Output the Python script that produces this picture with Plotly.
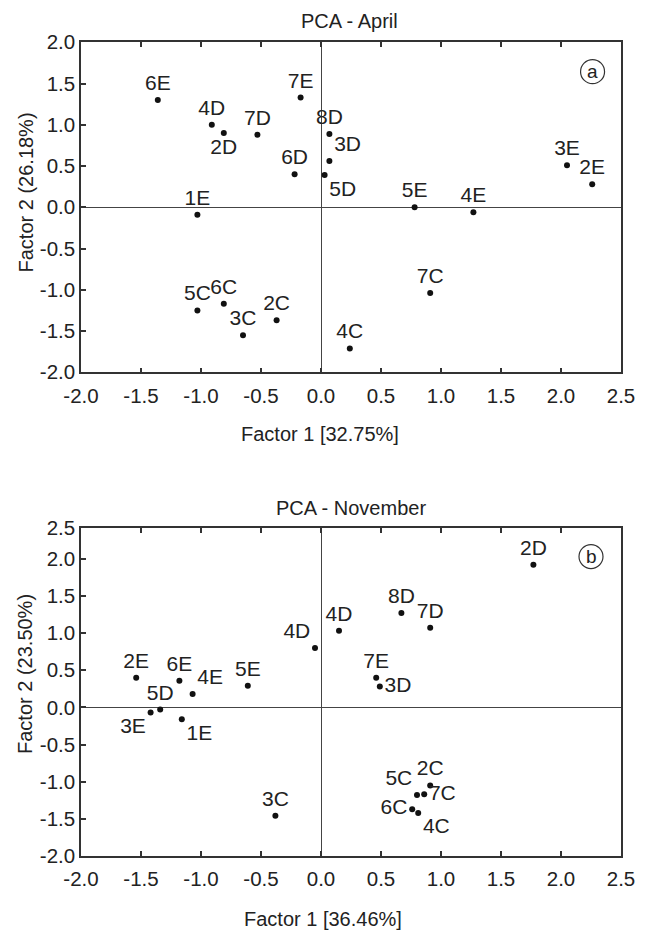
import plotly.graph_objects as go

# ---------------- data ----------------
apr_labels = ["6E", "4D", "2D", "7D", "7E", "6D", "8D", "3D", "5D", "1E",
              "5E", "4E", "3E", "2E", "5C", "6C", "3C", "2C", "4C", "7C"]
apr_x = [-1.36, -0.91, -0.81, -0.53, -0.17, -0.22, 0.07, 0.07, 0.03, -1.03,
         0.78, 1.27, 2.05, 2.26, -1.03, -0.81, -0.65, -0.37, 0.24, 0.91]
apr_y = [1.30, 1.00, 0.90, 0.88, 1.33, 0.40, 0.89, 0.56, 0.39, -0.09,
         0.00, -0.06, 0.51, 0.28, -1.25, -1.17, -1.55, -1.37, -1.71, -1.04]

nov_labels = ["2D", "8D", "7D", "4D", "4D", "7E", "3D", "2E", "6E", "4E",
              "5E", "5D", "3E", "1E", "3C", "2C", "5C", "7C", "6C", "4C"]
nov_x = [1.77, 0.67, 0.91, 0.15, -0.05, 0.46, 0.49, -1.54, -1.18, -1.07,
         -0.61, -1.34, -1.42, -1.16, -0.38, 0.91, 0.80, 0.86, 0.76, 0.81]
nov_y = [1.92, 1.27, 1.07, 1.03, 0.80, 0.40, 0.28, 0.40, 0.36, 0.18,
         0.29, -0.03, -0.07, -0.16, -1.46, -1.05, -1.18, -1.17, -1.37, -1.42]

x_tickvals = [-2.0, -1.5, -1.0, -0.5, 0.0, 0.5, 1.0, 1.5, 2.0, 2.5]
x_ticktext = ["-2.0", "-1.5", "-1.0", "-0.5", "0.0", "0.5", "1.0", "1.5", "2.0", "2.5"]
y1_tickvals = [-2.0, -1.5, -1.0, -0.5, 0.0, 0.5, 1.0, 1.5, 2.0]
y1_ticktext = ["-2.0", "-1.5", "-1.0", "-0.5", "0.0", "0.5", "1.0", "1.5", "2.0"]
y2_top = 2.41
y2_tickvals = [-2.0, -1.5, -1.0, -0.5, 0.0, 0.5, 1.0, 1.5, 2.0, y2_top]
y2_ticktext = ["-2.0", "-1.5", "-1.0", "-0.5", "0.0", "0.5", "1.0", "1.5", "2.0", "2.5"]

# ---------------- label placement (style) ----------------
apr_pos = ["top center", "top center", "bottom center", "top center", "top center",
           "top center", "top center", "top right", "bottom right", "top center",
           "top center", "top center", "top center", "top center", "top center",
           "top center", "top center", "top center", "top center", "top center"]
nov_pos = ["top center", "top center", "top center", "top center", "top left",
           "top center", "middle right", "top center", "top center", "top right",
           "top center", "top center", "bottom left", "bottom right", "top center",
           "top center", "top left", "middle right", "middle left", "bottom right"]

TXT = "#222222"
LINE = "#333333"
FONT = "Liberation Sans, Arial, sans-serif"

W, H, OFF = 649, 933, 8   # page body margin offsets the figure by 8 px


def fx(px):
    return (px - OFF) / W


def fy(py):
    return 1 - (py - OFF) / H


fig = go.Figure()

fig.add_trace(go.Scatter(
    x=apr_x, y=apr_y, text=apr_labels, mode="markers+text",
    textposition=apr_pos, cliponaxis=False,
    marker=dict(size=6, color="#111111"),
    textfont=dict(family=FONT, size=21, color=TXT),
    xaxis="x", yaxis="y", showlegend=False, hoverinfo="skip"))

fig.add_trace(go.Scatter(
    x=nov_x, y=nov_y, text=nov_labels, mode="markers+text",
    textposition=nov_pos, cliponaxis=False,
    marker=dict(size=6, color="#111111"),
    textfont=dict(family=FONT, size=21, color=TXT),
    xaxis="x2", yaxis="y2", showlegend=False, hoverinfo="skip"))

ax_common = dict(showgrid=False, showline=True, linecolor=LINE, linewidth=1.5,
                 ticks="inside", ticklen=5, tickwidth=1.5, tickcolor=LINE,
                 zeroline=True, zerolinecolor="#444444", zerolinewidth=1.2,
                 tickfont=dict(family=FONT, size=20.5, color=TXT),
                 tickmode="array", fixedrange=True, automargin=False)

xdom = [fx(81), fx(621)]
fig.update_layout(
    width=W, height=H, autosize=False,
    margin=dict(l=0, r=0, t=0, b=0, pad=0, autoexpand=False),
    paper_bgcolor="white", plot_bgcolor="white",
    xaxis=dict(**ax_common, domain=xdom, range=[-2.0, 2.5], anchor="y",
               mirror="ticks", tickvals=x_tickvals, ticktext=x_ticktext,
               ticklabelstandoff=4),
    yaxis=dict(**ax_common, domain=[fy(372.3), fy(42.3)],
               range=[-2.0, 2.0], anchor="x", mirror=True,
               tickvals=y1_tickvals, ticktext=y1_ticktext, ticklabelstandoff=0),
    xaxis2=dict(**ax_common, domain=xdom, range=[-2.0, 2.5], anchor="y2",
                mirror="ticks", tickvals=x_tickvals, ticktext=x_ticktext,
                ticklabelstandoff=4),
    yaxis2=dict(**ax_common, domain=[fy(856), fy(528.3)],
                range=[-2.0, y2_top], anchor="x2", mirror=True,
                tickvals=y2_tickvals, ticktext=y2_ticktext, ticklabelstandoff=0),
)

# titles
ann = [
    dict(text="PCA - April", x=fx(349), y=fy(21)),
    dict(text="PCA - November", x=fx(350.5), y=fy(508)),
    dict(text="Factor 1 [32.75%]", x=fx(320), y=fy(434)),
    dict(text="Factor 1 [36.46%]", x=fx(323), y=fy(919)),
    dict(text="Factor 2 (26.18%)", x=fx(25), y=fy(192.5), textangle=-90),
    dict(text="Factor 2 (23.50%)", x=fx(25), y=fy(674), textangle=-90),
]
for a in ann:
    fig.add_annotation(xref="paper", yref="paper", showarrow=False,
                       xanchor="center", yanchor="middle",
                       font=dict(family=FONT, size=20, color=TXT), **a)

# panel markers (circled letters)
for letter, cx, cy, xr, yr in [("a", 2.263, 1.644, "x", "y"), ("b", 2.25, 2.03, "x2", "y2")]:
    fig.add_shape(type="circle", xref=xr, yref=yr, xsizemode="pixel", ysizemode="pixel",
                  xanchor=cx, yanchor=cy, x0=-12, x1=12, y0=-12, y1=12,
                  line=dict(color=LINE, width=1.2))
    fig.add_annotation(xref=xr, yref=yr, x=cx, y=cy, text=letter, showarrow=False,
                       xanchor="center", yanchor="middle",
                       font=dict(family=FONT, size=19, color=TXT))

fig.write_html("out.html")
